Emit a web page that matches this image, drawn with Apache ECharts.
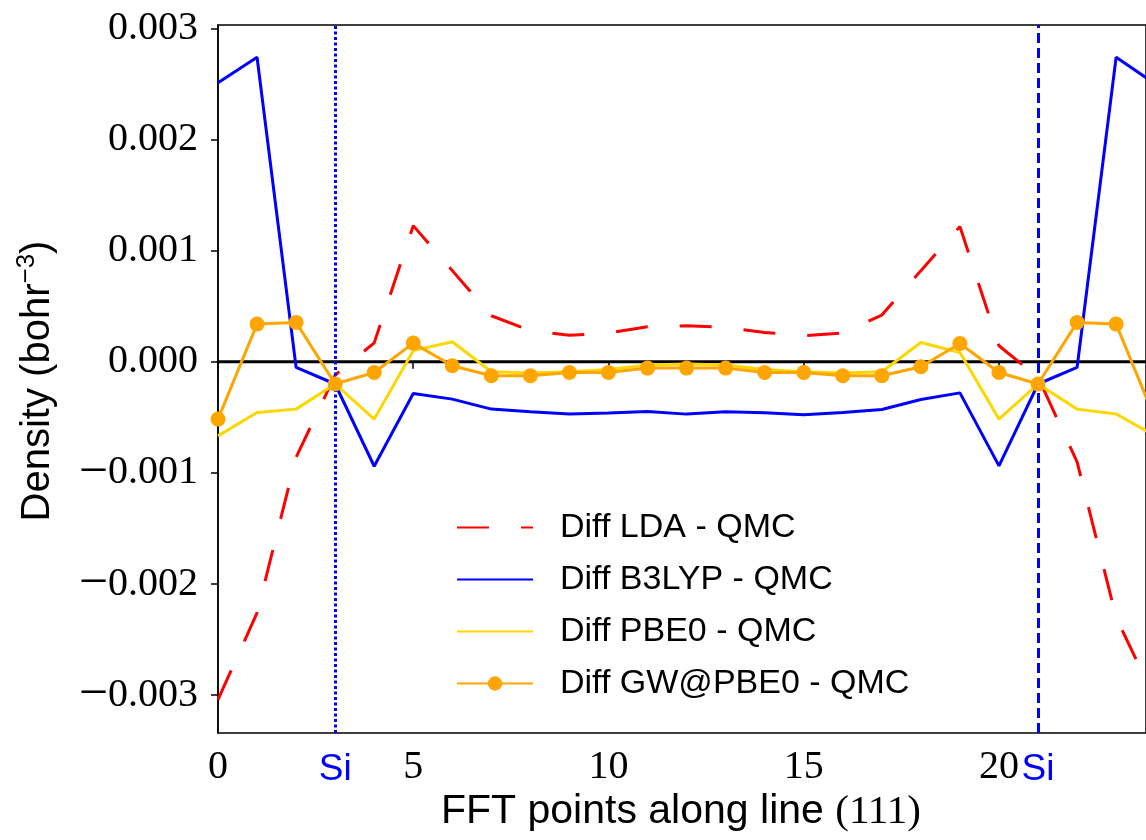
<!DOCTYPE html>
<html>
<head>
<meta charset="utf-8">
<script src="https://cdn.jsdelivr.net/npm/echarts@6/dist/echarts.min.js"></script>
<style>html,body{margin:0;padding:0;background:#fff}#c{width:1146px;height:840px}</style>
</head>
<body>
<div id="c"></div>
<script>
// ---- data ----
const fftPoints = [0,1,2,3,4,5,6,7,8,9,10,11,12,13,14,15,16,17,18,19,20,21,22,23,24];
const diffLDA = [-0.00304,-0.00226,-0.00086,-0.00012,0.00017,0.001225,0.00082,0.000414,0.00028,0.000238,0.00026,0.000315,0.000324,0.00031,0.000264,0.000234,0.000258,0.00042,0.00082,0.001216,0.000144,-0.00014,-0.0009,-0.0023,-0.00304];
const diffB3LYP = [0.00251,0.00274,-0.00005,-0.0002,-0.00094,-0.000285,-0.000336,-0.000426,-0.00045,-0.00047,-0.000462,-0.000447,-0.000471,-0.00045,-0.000459,-0.000477,-0.000456,-0.00043,-0.00034,-0.00028,-0.000937,-0.0002,-0.000051,0.00274,0.0025];
const diffPBE0 = [-0.000667,-0.000456,-0.000426,-0.0002,-0.000516,0.0001,0.00018,-0.00009,-0.0001,-0.00009,-0.00007,-0.00003,-0.00002,-0.00003,-0.00007,-0.00009,-0.0001,-0.00009,0.000174,0.000084,-0.000516,-0.0002,-0.000426,-0.00047,-0.000667];
const diffGW = [-0.000516,0.000339,0.000354,-0.0002,-0.000096,0.000168,-0.000036,-0.000126,-0.000126,-0.000096,-0.000096,-0.000057,-0.000057,-0.000057,-0.000096,-0.000096,-0.000126,-0.000126,-0.000045,0.000165,-0.000096,-0.0002,0.000354,0.000339,-0.000516];
const seriesNames = ['Diff LDA - QMC','Diff B3LYP - QMC','Diff PBE0 - QMC','Diff GW@PBE0 - QMC'];
const xTicks = [0,5,10,15,20];
const siPositions = [3,21];
const yTicks = [-0.003,-0.002,-0.001,0,0.001,0.002,0.003];
const zeroLine = [0,0];

const pairs = arr => fftPoints.map((x,i)=>[x,arr[i]]);
const SANS = 'Liberation Sans';
const SERIF = 'Liberation Serif';

const chart = echarts.init(document.getElementById('c'), null, {renderer:'canvas'});
chart.setOption({
  animation:false,
  backgroundColor:'#fff',
  grid:{left:218,top:25,right:0,bottom:107,show:true,borderColor:'#000',borderWidth:1.5,backgroundColor:'transparent'},
  xAxis:{
    type:'value',min:0,max:23.765,
    axisLine:{show:true,lineStyle:{color:'#000',width:1.5}},
    splitLine:{show:false},
    axisTick:{show:true,inside:false,length:7,lineStyle:{color:'#000',width:1.5},customValues:xTicks},
    axisLabel:{
      customValues:xTicks.concat(siPositions).sort((a,b)=>a-b),
      margin:14,hideOverlap:false,
      formatter:v=> siPositions.indexOf(v)>=0 ? '{si|Si}' : '{n|'+v+'}',
      rich:{
        n:{fontFamily:SERIF,fontSize:40,color:'#000'},
        si:{fontFamily:SANS,fontSize:37,color:'#0000ff',padding:[4,0,0,0]}
      }
    }
  },
  yAxis:{
    type:'value',min:-0.00334,max:0.00303,
    axisLine:{show:true,lineStyle:{color:'#000',width:1.5}},
    splitLine:{show:false},
    axisTick:{show:true,inside:false,length:7,lineStyle:{color:'#000',width:1.5},customValues:yTicks},
    axisLabel:{
      customValues:yTicks,margin:20,
      fontFamily:SERIF,fontSize:40,color:'#000',
      formatter:v=>{const s=Math.abs(v).toFixed(3);return v<-1e-9?'{m|\u2212}'+s:s;},
      rich:{m:{fontFamily:SERIF,fontSize:52,color:'#000'}}
    }
  },
  legend:{
    orient:'vertical',left:451,top:505,
    itemWidth:76,itemHeight:18,itemGap:17,
    data:[
      {name:seriesNames[0],itemStyle:{opacity:0}},
      {name:seriesNames[1],itemStyle:{opacity:0}},
      {name:seriesNames[2],itemStyle:{opacity:0}},
      {name:seriesNames[3]}
    ],
    textStyle:{fontFamily:SANS,fontSize:34,color:'#000',lineHeight:35,padding:[0,0,0,22]}
  },
  graphic:[
    {type:'text',x:38,y:381,rotation:Math.PI/2,
     style:{text:'{a|Density (bohr}{b|\u22123}{a|)}',align:'center',verticalAlign:'middle',
       rich:{a:{fontFamily:SANS,fontSize:40,lineHeight:48,fill:'#000',color:'#000'},
             b:{fontFamily:SANS,fontSize:26,lineHeight:26,verticalAlign:'top',fill:'#000',color:'#000'}}}},
    {type:'text',x:681,y:812,
     style:{text:'{a|FFT points along line }{b|(111)}',align:'center',verticalAlign:'middle',
       rich:{a:{fontFamily:SANS,fontSize:41,fill:'#000',color:'#000'},
             b:{fontFamily:SERIF,fontSize:41,fill:'#000',color:'#000'}}}}
  ],
  series:[
    {name:'zero',type:'line',data:[[0,zeroLine[0]],[24,zeroLine[1]]],symbol:'none',z:1,
     lineStyle:{color:'#000',width:3},silent:true,
     markLine:{symbol:'none',silent:true,label:{show:false},animation:false,
       data:[
         {xAxis:siPositions[0],lineStyle:{color:'#0000ff',width:3,type:[3,2.5]}},
         {xAxis:siPositions[1],lineStyle:{color:'#0000ff',width:3,type:[10,5]}}
       ]}},
    {name:seriesNames[0],type:'line',data:pairs(diffLDA),symbol:'none',z:2,
     lineStyle:{color:'#ff0000',width:3,type:[32,32]},itemStyle:{color:'#ff0000'}},
    {name:seriesNames[1],type:'line',data:pairs(diffB3LYP),symbol:'none',z:3,
     lineStyle:{color:'#0000ff',width:3},itemStyle:{color:'#0000ff'}},
    {name:seriesNames[2],type:'line',data:pairs(diffPBE0),symbol:'none',z:4,
     lineStyle:{color:'#ffd700',width:3},itemStyle:{color:'#ffd700'}},
    {name:seriesNames[3],type:'line',data:pairs(diffGW),symbol:'circle',symbolSize:15,showSymbol:true,z:5,
     lineStyle:{color:'#ffa500',width:3},itemStyle:{color:'#ffa500'}}
  ]
});
</script>
</body>
</html>
